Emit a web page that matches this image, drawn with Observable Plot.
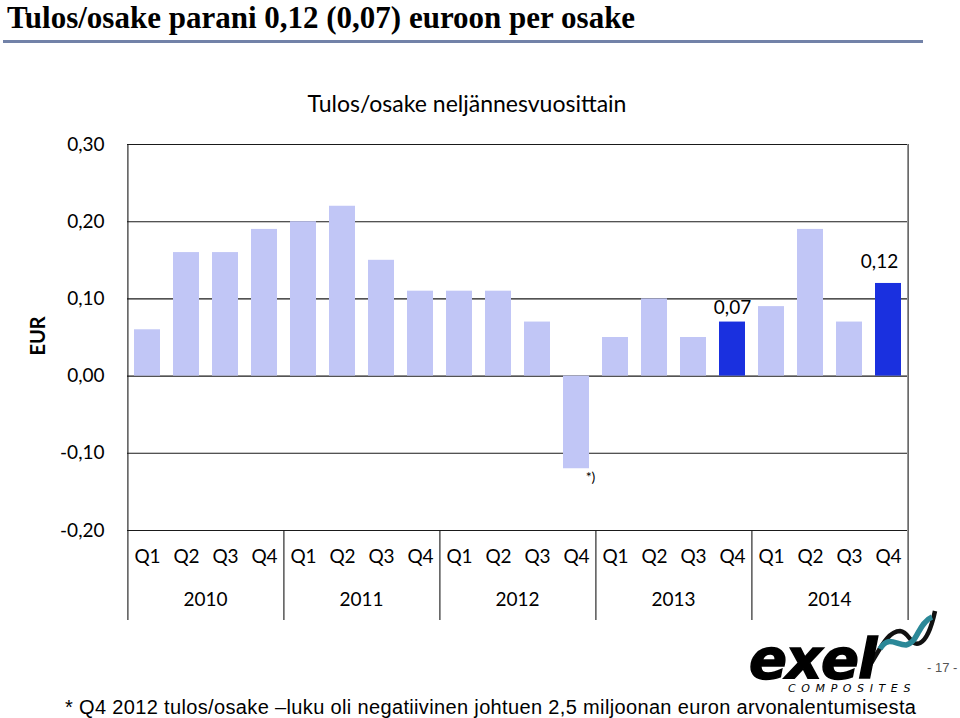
<!DOCTYPE html>
<html><head><meta charset="utf-8">
<script src="https://cdn.jsdelivr.net/npm/d3@7"></script>
<script src="https://cdn.jsdelivr.net/npm/@observablehq/plot@0.6"></script>
<style>
html,body{margin:0;padding:0;background:#fff}
body{width:960px;height:718px;position:relative;overflow:hidden;font-family:Lato,"Open Sans",sans-serif;color:#000}
#chart{position:absolute;left:0;top:0}
#title{position:absolute;left:7px;top:0px;font-family:"Liberation Serif",serif;font-weight:bold;font-size:31px;line-height:normal;white-space:nowrap}
#hr{position:absolute;left:3px;top:40px;width:920px;height:3px;background:#7282a8}
#ctitle{position:absolute;left:0;width:934px;top:89px;text-align:center;font-size:23px;white-space:nowrap}
#eur{position:absolute;left:37px;top:336px;font-size:20px;font-weight:bold;transform:translate(-50%,-50%) rotate(-90deg);white-space:nowrap}
#note{position:absolute;left:65px;top:697px;font-family:"Liberation Sans",Arial,sans-serif;font-size:20px;letter-spacing:0.35px;white-space:nowrap;line-height:20px}
#logo{position:absolute;left:749px;top:636px;font-family:"DejaVu Sans",sans-serif;font-style:italic;white-space:nowrap}
#logo .exel{display:block;font-weight:bold;font-size:56px;letter-spacing:-1px;line-height:46px;height:47px;-webkit-text-stroke:1.5px #000}
#logo .comp{display:block;margin-left:39px;font-size:11px;letter-spacing:5.6px;line-height:11px}
#page{position:absolute;left:927px;top:660px;font-family:"Liberation Sans",Arial,sans-serif;font-size:13px;color:#555;white-space:nowrap}
#swoosh{position:absolute;left:860px;top:605px}
</style></head><body>
<div id="title">Tulos/osake parani 0,12 (0,07) euroon per osake</div>
<div id="hr"></div>
<div id="chart"></div>
<div id="ctitle">Tulos/osake neljännesvuosittain</div>
<div id="eur">EUR</div>
<svg id="swoosh" width="80" height="65" viewBox="0 0 80 65">
  <path d="M10 60 C 20 44, 28 26, 40 26 C 50 27, 50 42, 60 38 C 68 34, 72 20, 75 6" fill="none" stroke="#111" stroke-width="4.5"/>
  <path d="M20 44 C 28 30, 36 40, 46 40 C 58 38, 58 18, 72 12" fill="none" stroke="#2b8898" stroke-width="5.5"/>
</svg>
<div id="logo"><span class="exel">exel</span><span class="comp">COMPOSITES</span></div>
<div id="page">- 17 -</div>
<div id="note">* Q4 2012 tulos/osake –luku oli negatiivinen johtuen 2,5 miljoonan euron arvonalentumisesta</div>
<script>
const years = ["2010", "2011", "2012", "2013", "2014"];
const quarters = ["Q1", "Q2", "Q3", "Q4"];
const eps = [0.06, 0.16, 0.16, 0.19, 0.20, 0.22, 0.15, 0.11, 0.11, 0.11, 0.07, -0.12, 0.05, 0.10, 0.05, 0.07, 0.09, 0.19, 0.07, 0.12];
const highlighted = ["2013 Q4", "2014 Q4"];
const footnoted = ["2012 Q4"];
const yTicks = [0.30, 0.20, 0.10, 0.00, -0.10, -0.20];

const light = "#c1c6f6", dark = "#1a30df";
const data = years.flatMap((y, i) => quarters.map((q, j) => ({year: y, q, key: y + " " + q, value: eps[i * 4 + j]})));
const fmt = v => v.toFixed(2).replace(".", ",");
const W = 960, H = 640, mL = 125, mR = 51, mT = 144, mB = 20, yBottomPx = 530;
const half = (W - mL - mR) / 20 / 2;
const yRange = [yBottomPx, mT];
const yFloor = d3.scaleLinear([d3.min(yTicks), d3.max(yTicks)], yRange).invert(H - mB);

const chart = Plot.plot({
  width: W, height: H,
  marginTop: mT, marginBottom: mB, marginLeft: mL, marginRight: mR,
  style: {fontFamily: "Lato, 'Open Sans', sans-serif", fontSize: "19px", color: "#000", background: "transparent"},
  fx: {domain: years, padding: 0, axis: null},
  x: {domain: quarters, paddingInner: 0.34, paddingOuter: 0.17, axis: null},
  y: {domain: [d3.min(yTicks), d3.max(yTicks)], range: yRange, axis: "left", ticks: yTicks, tickSize: 0, tickPadding: 23, tickFormat: fmt, label: null},
  color: {type: "identity"},
  marks: [
    Plot.ruleY(yTicks, {stroke: "#1a1a1a", strokeWidth: 1.1}),
    Plot.barY(data, {fx: "year", x: "q", y: "value", fill: d => highlighted.includes(d.key) ? dark : light}),
    // outer left and right borders (full height)
    Plot.ruleX(data.filter(d => d.key === "2010 Q1"), {fx: "year", x: "q", dx: -half, stroke: "#1a1a1a", strokeWidth: 1.1}),
    Plot.ruleX(data.filter(d => d.key === "2014 Q4"), {fx: "year", x: "q", dx: half, stroke: "#1a1a1a", strokeWidth: 1.1}),
    // year separators in the category-axis band only
    Plot.ruleX(data.filter(d => d.q === "Q1" && d.year !== years[0]), {fx: "year", x: "q", dx: -half, y1: d3.min(yTicks), y2: yFloor, stroke: "#1a1a1a", strokeWidth: 1.1}),
    Plot.text(data, {fx: "year", x: "q", text: "q", frameAnchor: "bottom", dy: -58, fontSize: 19}),
    Plot.text(years, {fx: d => d, text: d => d, frameAnchor: "bottom", dy: -15, fontSize: 19}),
    Plot.text(data.filter(d => d.key === "2013 Q4"), {fx: "year", x: "q", y: "value", text: d => fmt(d.value), dy: -14, fontSize: 19}),
    Plot.text(data.filter(d => d.key === "2014 Q4"), {fx: "year", x: "q", y: "value", text: d => fmt(d.value), dy: -22, dx: -9, fontSize: 19}),
    Plot.text(data.filter(d => footnoted.includes(d.key)), {fx: "year", x: "q", y: "value", text: () => "*)", dy: 9, dx: 14, fontSize: 14})
  ]
});
document.getElementById("chart").appendChild(chart);
</script>
</body></html>
